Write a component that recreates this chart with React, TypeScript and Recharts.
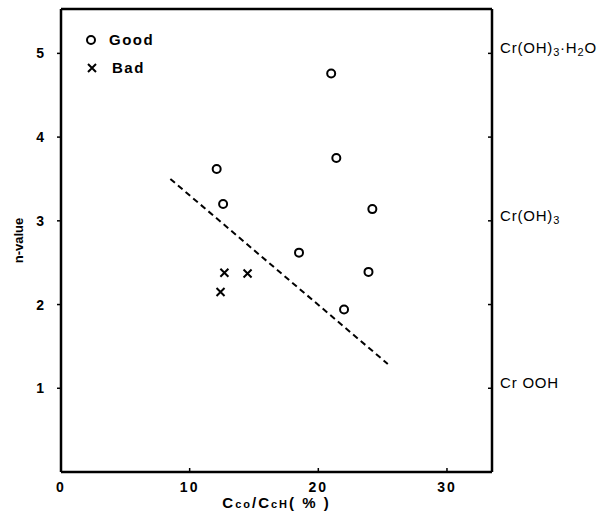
import React from "react";
import { ScatterChart, Scatter, XAxis, YAxis, ReferenceLine, Legend } from "recharts";

const goodX = [12.1, 12.6, 18.5, 21.0, 21.4, 22.0, 24.2, 23.9];
const goodY = [3.62, 3.2, 2.62, 4.76, 3.75, 1.94, 3.14, 2.39];
const badX = [12.7, 14.5, 12.4];
const badY = [2.38, 2.37, 2.15];
const trendX = [8.5, 25.4];
const trendY = [3.5, 1.29];

const xTicks = [0, 10, 20, 30];
const yTicks = [1, 2, 3, 4, 5];
const xMax = 33.5;
const yMax = 5.53;

// right-hand phase labels, [text, isSubscript]
const phaseLabels: Record<number, [string, boolean][]> = {
  1: [["Cr", false], [" OOH", false]],
  3: [["Cr(OH)", false], ["3", true]],
  5: [["Cr(OH)", false], ["3", true], ["·H", false], ["2", true], ["O", false]],
};

const good = goodX.map((x, i) => ({ x, y: goodY[i] }));
const bad = badX.map((x, i) => ({ x, y: badY[i] }));
const trend = trendX.map((x, i) => ({ x, y: trendY[i] }));

const font = "'Liberation Sans', Arial, sans-serif";

const OpenCircle = (p: any) => (
  <circle cx={p.cx} cy={p.cy} r={4} fill="#fff" stroke="#000" strokeWidth={2} />
);

const Cross = (p: any) => (
  <path
    d={`M${p.cx - 4},${p.cy - 4}L${p.cx + 4},${p.cy + 4}M${p.cx + 4},${p.cy - 4}L${p.cx - 4},${p.cy + 4}`}
    stroke="#000"
    strokeWidth={2}
    fill="none"
  />
);

const RightTick = (p: any) => {
  const parts = phaseLabels[p.payload.value];
  if (!parts) return null;
  return (
    <text x={p.x} y={p.y} dy={5} fontFamily={font} fontSize={15} letterSpacing={0.8} fill="#000">
      {parts.map(([t, sub], i) => (
        <tspan key={i} fontSize={sub ? 11 : 15} dy={sub ? 3 : i > 0 && parts[i - 1][1] ? -3 : 0}>
          {t}
        </tspan>
      ))}
    </text>
  );
};

const XLabel = (p: any) => {
  const vb = p.viewBox;
  const cx = vb.x + vb.width / 2;
  return (
    <text x={cx} y={vb.y + 36} textAnchor="middle" fontFamily={font} fontSize={15} fontWeight="bold" letterSpacing={2}>
      <tspan>C</tspan>
      <tspan fontSize={11}>co</tspan>
      <tspan>/C</tspan>
      <tspan fontSize={11}>cH</tspan>
      <tspan>( % )</tspan>
    </text>
  );
};

const YLabel = (p: any) => {
  const vb = p.viewBox;
  const x = vb.x + 18;
  const y = vb.y + vb.height / 2;
  return (
    <text
      x={x}
      y={y}
      transform={`rotate(-90, ${x}, ${y})`}
      textAnchor="middle"
      dominantBaseline="central"
      fontFamily={font}
      fontSize={13}
      fontWeight="bold"
    >
      n-value
    </text>
  );
};

const LegendBox = () => (
  <div style={{ fontFamily: font, fontSize: 15, fontWeight: "bold", letterSpacing: 1.5, lineHeight: "28px" }}>
    <div style={{ display: "flex", alignItems: "center" }}>
      <svg width={20} height={20} style={{ marginRight: 8 }}>
        <OpenCircle cx={10} cy={10} />
      </svg>
      Good
    </div>
    <div style={{ display: "flex", alignItems: "center" }}>
      <svg width={20} height={20} style={{ marginRight: 11 }}>
        <Cross cx={11} cy={10} />
      </svg>
      Bad
    </div>
  </div>
);

export default function App() {
  return (
    <div style={{ position: "absolute", left: 0, top: 0, background: "#fff" }}>
      <ScatterChart width={605} height={527} margin={{ top: 9, right: 0, bottom: 0, left: 0 }}>
        <XAxis
          type="number"
          dataKey="x"
          domain={[0, xMax]}
          ticks={xTicks}
          allowDataOverflow
          height={55}
          axisLine={{ stroke: "#000", strokeWidth: 2.5 }}
          tickLine={{ stroke: "#000", strokeWidth: 1.5 }}
          tickSize={-4}
          tickMargin={14}
          tick={{ fill: "#000", fontFamily: font, fontSize: 14, fontWeight: "bold", letterSpacing: 2 }}
          label={<XLabel />}
        />
        <YAxis
          yAxisId="left"
          type="number"
          dataKey="y"
          domain={[0, yMax]}
          ticks={yTicks}
          allowDataOverflow
          width={61}
          axisLine={{ stroke: "#000", strokeWidth: 2.5 }}
          tickLine={{ stroke: "#000", strokeWidth: 1.5 }}
          tickSize={4}
          tickMargin={13}
          tick={{ fill: "#000", fontFamily: font, fontSize: 14, fontWeight: "bold" }}
          label={<YLabel />}
        />
        <YAxis
          yAxisId="right"
          orientation="right"
          type="number"
          domain={[0, yMax]}
          ticks={yTicks}
          allowDataOverflow
          width={113}
          axisLine={{ stroke: "#000", strokeWidth: 2.5 }}
          tickLine={{ stroke: "#000", strokeWidth: 1.5 }}
          tickSize={-4}
          tickMargin={12}
          tick={<RightTick />}
        />
        <ReferenceLine yAxisId="left" y={yMax} stroke="#000" strokeWidth={2.5} />
        <Legend
          verticalAlign="middle"
          align="center"
          layout="horizontal"
          content={<LegendBox />}
          wrapperStyle={{ left: 81, top: 26, width: 120 }}
        />
        <Scatter
          yAxisId="left"
          data={trend}
          line={{ stroke: "#000", strokeWidth: 2, strokeDasharray: "6 4" }}
          shape={() => null}
          legendType="none"
          isAnimationActive={false}
        />
        <Scatter yAxisId="left" name="Good" data={good} shape={<OpenCircle />} isAnimationActive={false} />
        <Scatter yAxisId="left" name="Bad" data={bad} shape={<Cross />} isAnimationActive={false} />
      </ScatterChart>
    </div>
  );
}
